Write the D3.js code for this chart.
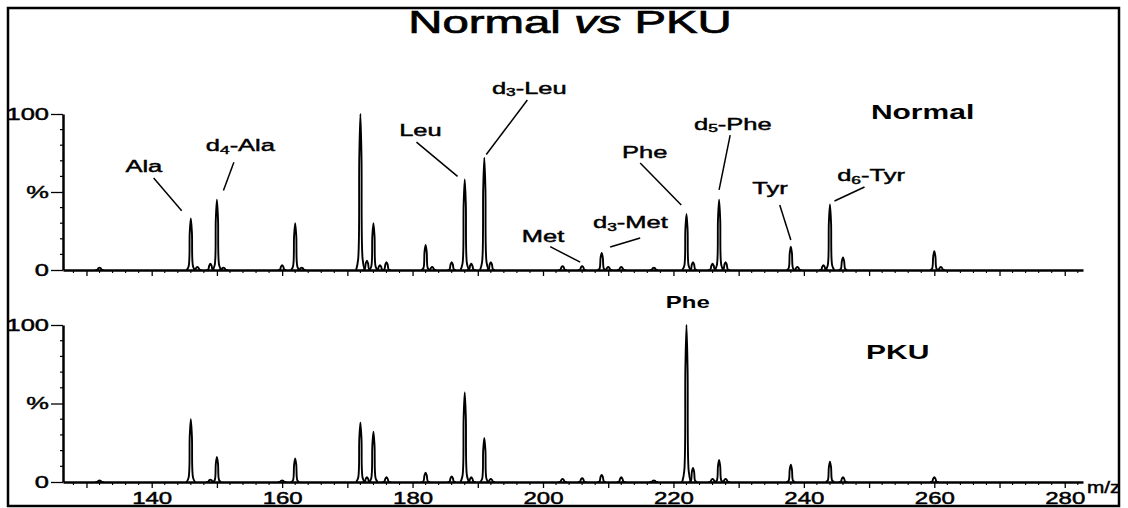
<!DOCTYPE html>
<html lang="en">
<head>
<meta charset="utf-8">
<title>Normal vs PKU</title>
<script src="https://d3js.org/d3.v7.min.js"></script>
<style>
  body { margin: 0; background: #fff; }
  text { font-family: "Liberation Sans", Arial, sans-serif; fill: #000; }
  .heavy { stroke: #000; stroke-width: 0.45; }
</style>
</head>
<body>
<script>
// peak lists (m/z, relative intensity %)
const normalMz  = [132, 146, 147, 149, 150, 151, 160, 162, 163, 172, 173, 174, 175, 176, 182, 183, 186, 188, 189, 191, 192, 203, 206, 209, 210, 212, 217, 222, 223, 226, 227, 228, 238, 239, 243, 244, 246, 260, 261];
const normalInt = [1.5, 33, 2, 4, 45, 1.5, 3, 30, 1.5, 100, 6, 30, 3, 5, 16, 2, 5, 58, 4, 72, 5, 2.5, 2.5, 11, 2, 2, 1.5, 36, 5, 4, 45, 5, 15, 2, 3, 42, 8, 12, 2];

const pkuMz  = [132, 146, 149, 150, 160, 162, 172, 173, 174, 176, 182, 186, 188, 189, 191, 192, 203, 206, 209, 212, 217, 222, 223, 226, 227, 228, 238, 244, 246, 260];
const pkuInt = [1, 40, 1.5, 16, 1, 15, 38, 3, 32, 3, 6, 3.5, 57, 3, 28, 2, 2, 2.5, 4.5, 3, 1, 100, 9, 2, 14, 2, 11, 13, 3, 3];

// annotations of the Normal trace: label text, label centre, leader line (all in m/z, %)
const labelText  = [["Ala"], ["d", "4", "-Ala"], ["Leu"], ["d", "3", "-Leu"], ["Met"], ["d", "3", "-Met"], ["Phe"], ["d", "5", "-Phe"], ["Tyr"], ["d", "6", "-Tyr"]];
const labelAt    = [[138.8, 67], [153.6, 80], [181.2, 90], [197.9, 117], [200.0, 22], [213.4, 31], [215.6, 76], [229.1, 94], [234.8, 53], [250.3, 61]];
const leaderFrom = [[140.3, 59], [152.6, 69], [180.6, 82], [197.6, 109], [201.1, 15], [214.9, 20.5], [214.9, 68.6], [228.7, 86.5], [236.3, 41.7], [249.3, 53.2]];
const leaderTo   = [[144.6, 38], [151.0, 51], [186.9, 60], [191.3, 74], [205.7, 5], [210.3, 14.7], [221.2, 41.7], [227.0, 51.3], [238.0, 19.2], [244.7, 44.2]];

const xTicksMajor = d3.range(130, 281, 10);
const xTickLabels = [140, 160, 180, 200, 220, 240, 260, 280];

const W = 1128, H = 508;
const SX = 1.5; // the figure is stretched sideways

const svg = d3.select("body").append("svg")
  .attr("width", W).attr("height", H);

svg.append("rect")
  .attr("x", 8).attr("y", 8).attr("width", 1111).attr("height", 498)
  .attr("fill", "none").attr("stroke", "#000").attr("stroke-width", 2.5);

let x = d3.scaleLinear().domain([126.4, 282.8]).range([63, 1083]);

// draw a piece of text stretched horizontally, parts = [text, sub, text]
function stretchText(px, py, size, weight, parts, anchor, sx) {
  let g = svg.append("g").attr("transform", "translate(" + px + "," + py + ") scale(" + (sx || SX) + ",1)");
  let t = g.append("text")
    .attr("class", weight == "bold" ? null : "heavy")
    .attr("text-anchor", anchor || "middle")
    .attr("dominant-baseline", "central")
    .attr("font-size", size)
    .attr("font-weight", weight);
  t.append("tspan").text(parts[0]);
  if (parts.length > 1) {
    t.append("tspan").attr("font-size", size * 0.68).attr("dy", 5).text(parts[1]);
    t.append("tspan").attr("dy", -5).text(parts[2]);
  }
  return t;
}

// peak outline, a narrow tent around each m/z
let peakShape = [[-0.65, 0], [-0.34, 0.07], [-0.17, 0.72], [0, 1], [0.17, 0.72], [0.34, 0.07], [0.65, 0]];

function drawPanel(mz, inten, y, showLabels) {
  let g = svg.append("g");

  let line = d3.line()
    .x(d => x(d[0])).y(d => y(d[1]))
    .curve(d3.curveCatmullRom);

  mz.forEach((m, i) => {
    g.append("path")
      .attr("d", line(peakShape.map(p => [m + p[0], p[1] * inten[i]])))
      .attr("fill", "none").attr("stroke", "#000").attr("stroke-width", 1.9);
  });

  // y axis
  let yAxis = g.append("g").attr("transform", "translate(" + x(126.4) + ",0)")
    .call(d3.axisLeft(y).tickValues([0, 50, 100]).tickSize(12).tickSizeOuter(0)
      .tickFormat(d => d == 50 ? "%" : d));
  yAxis.select(".domain").attr("stroke-width", 2.5);
  yAxis.selectAll(".tick line").attr("stroke-width", 1.3);
  yAxis.selectAll("text")
    .attr("class", "heavy")
    .attr("font-size", 17)
    .attr("x", -14 / SX)
    .attr("transform", "scale(" + SX + ",1)");
  yAxis.selectAll(".minor").data(d3.range(10, 100, 10).filter(d => d != 50))
    .enter().append("line").attr("class", "minor")
    .attr("x1", -3).attr("x2", 0)
    .attr("y1", d => y(d)).attr("y2", d => y(d))
    .attr("stroke", "#000").attr("stroke-width", 1.2);

  // x axis
  let xAxis = g.append("g").attr("transform", "translate(0," + y(0) + ")")
    .call(d3.axisBottom(x).tickValues(xTicksMajor).tickSize(6).tickSizeOuter(0).tickPadding(5)
      .tickFormat(d => showLabels && xTickLabels.includes(d) ? d : ""));
  xAxis.select(".domain").attr("stroke-width", 2.6);
  xAxis.selectAll(".tick line").attr("stroke-width", 1.3);
  xAxis.selectAll(".tick text")
    .attr("class", "heavy")
    .attr("font-size", 16)
    .attr("transform", "scale(" + SX + ",1)");
  xAxis.selectAll(".minor").data(d3.range(128, 283, 2).filter(d => d % 10 != 0))
    .enter().append("line").attr("class", "minor")
    .attr("x1", d => x(d)).attr("x2", d => x(d))
    .attr("y1", 0).attr("y2", 3)
    .attr("stroke", "#000").attr("stroke-width", 1.1);
}

let yTop = d3.scaleLinear().domain([0, 100]).range([270, 114]);
let yBot = d3.scaleLinear().domain([0, 100]).range([482, 325]);

drawPanel(normalMz, normalInt, yTop, false);
drawPanel(pkuMz, pkuInt, yBot, true);

// annotations on Normal trace
labelText.forEach((parts, i) => {
  stretchText(x(labelAt[i][0]), yTop(labelAt[i][1]), 17, "normal", parts);
  svg.append("line")
    .attr("x1", x(leaderFrom[i][0])).attr("y1", yTop(leaderFrom[i][1]))
    .attr("x2", x(leaderTo[i][0])).attr("y2", yTop(leaderTo[i][1]))
    .attr("stroke", "#000").attr("stroke-width", 1.5);
});

stretchText(x(258.2), yTop(101.3), 20, "bold", ["Normal"]);
stretchText(x(222.2), yBot(114.6), 16, "bold", ["Phe"]);
stretchText(x(254.4), yBot(82.8), 20, "bold", ["PKU"]);
stretchText(1087, 487, 16, "normal", ["m/z"], "start", 1.3);

// title
let title = svg.append("g").attr("transform", "translate(570,33) scale(1.48,1)")
  .append("text").attr("class", "heavy").attr("text-anchor", "middle").attr("font-size", 32)
  .style("stroke-width", 0.7);
title.append("tspan").text("Normal ");
title.append("tspan").attr("font-style", "italic").text("vs");
title.append("tspan").text(" PKU");
</script>
</body>
</html>
